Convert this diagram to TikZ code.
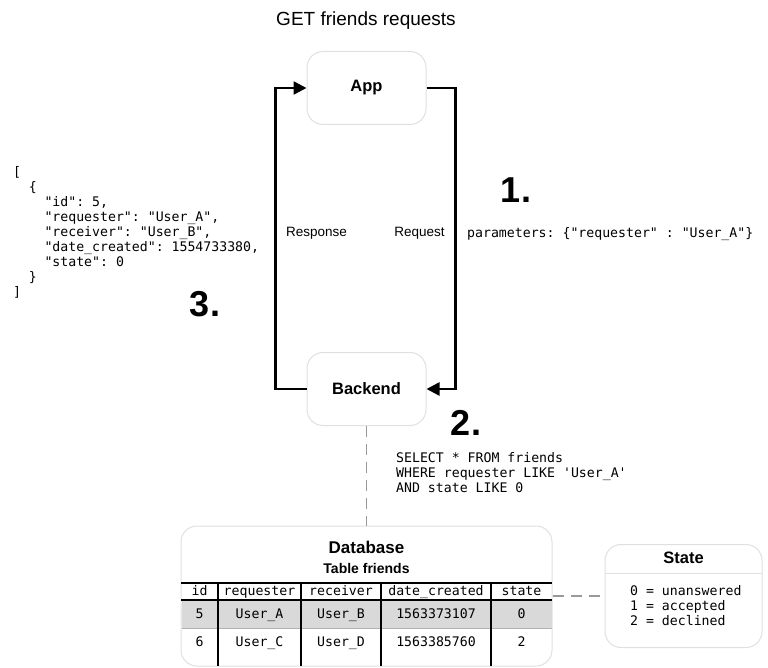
\documentclass[tikz,border=0pt]{standalone}
\usepackage{fontspec}
\setmainfont{Liberation Sans}
\setmonofont{DejaVu Sans Mono}
\usetikzlibrary{arrows.meta}
\begin{document}
\begin{tikzpicture}[x=1pt,y=-1pt,
  box/.style={draw=black!12, line width=1pt, fill=white, rounded corners=16pt, inner sep=0pt},
  boxlbl/.style={font=\fontsize{16.5}{20}\selectfont\bfseries},
  conn/.style={line width=2.5pt, -{Triangle[length=13pt,width=13pt]}},
  dashline/.style={draw=black!40, line width=1.5pt, dash pattern=on 11pt off 7pt},
  mono/.style={font=\ttfamily\fontsize{13.2}{15}\selectfont, inner sep=0pt, anchor=base west},
  cell/.style={font=\ttfamily\fontsize{13.2}{15}\selectfont, inner sep=0pt, anchor=base},
  small/.style={font=\fontsize{13.5}{16}\selectfont, inner sep=0pt},
  big/.style={font=\fontsize{36}{40}\selectfont\bfseries, inner sep=0pt},
  tbl/.style={line width=1.5pt}
]
\useasboundingbox (0,0) rectangle (768,668);
\fill[white] (0,0) rectangle (768,668);

\node[font=\fontsize{19}{22}\selectfont] (title) at (366,21) {GET friends requests};

\node[box, boxlbl, minimum width=119pt, minimum height=73pt] (app) at (366.5,88) {App};
\node[box, boxlbl, minimum width=119pt, minimum height=73pt] (backend) at (366.5,389) {Backend};

\draw[conn] (backend.west) -- ++(-31,0) |- (app.west);
\draw[conn] (app.east) -- ++(29,0) |- (backend.east);

\node[small] (resp) at (316.5,233) {Response};
\node[small] (req) at (419.5,233) {Request};
\node[mono] (params) at (467,237.5) {parameters: \{"requester" : "User\_A"\}};

\node[big] (n1) at (516,190) {1.};
\node[big] (n2) at (466,423) {2.};
\node[big] (n3) at (205,304) {3.};

% JSON
\node[mono] (j1) at (13,177) {[};
\node[mono] (j2) at (28.7,192) {\{};
\node[mono] (j3) at (44.3,207) {"id": 5,};
\node[mono] (j4) at (44.3,222) {"requester": "User\_A",};
\node[mono] (j5) at (44.3,237) {"receiver": "User\_B",};
\node[mono] (j6) at (44.3,252) {"date\_created": 1554733380,};
\node[mono] (j7) at (44.3,267) {"state": 0};
\node[mono] (j8) at (28.7,282) {\}};
\node[mono] (j9) at (13,297) {]};

% SQL
\node[mono] (s1) at (396,462) {SELECT * FROM friends};
\node[mono] (s2) at (396,477) {WHERE requester LIKE 'User\_A'};
\node[mono] (s3) at (396,492) {AND state LIKE 0};

% Database
\node[box, minimum width=371pt, minimum height=140pt] (db) at (366.5,596) {};
\draw[dashline] (backend.south) -- (db.north);
\node[font=\fontsize{17}{20}\selectfont\bfseries, inner sep=0pt] (dbt) at (366.5,547) {Database};
\node[font=\fontsize{14}{17}\selectfont\bfseries, inner sep=0pt] (dbs) at (366.5,568) {Table friends};
\fill[black!15] (181.5,600) rectangle (551.5,628);
\draw[black!30, line width=0.6pt] (181.5,628) -- (551.5,628);
\draw[tbl] (181,583) -- (552,583);
\draw[tbl] (181,600) -- (552,600);
\foreach \x in {218,301,381,491} \draw[tbl] (\x,583) -- (\x,666);

\node[cell] (h1) at (199.5,595.5) {id};
\node[cell] (h2) at (259.5,595.5) {requester};
\node[cell] (h3) at (341,595.5) {receiver};
\node[cell] (h4) at (436,595.5) {date\_created};
\node[cell] (h5) at (521.5,595.5) {state};

\node[cell] (a1) at (199.5,618) {5};
\node[cell] (a2) at (259.5,618) {User\_A};
\node[cell] (a3) at (341,618) {User\_B};
\node[cell] (a4) at (436,618) {1563373107};
\node[cell] (a5) at (521.5,618) {0};

\node[cell] (b1) at (199.5,646) {6};
\node[cell] (b2) at (259.5,646) {User\_C};
\node[cell] (b3) at (341,646) {User\_D};
\node[cell] (b4) at (436,646) {1563385760};
\node[cell] (b5) at (521.5,646) {2};

% State
\node[box, minimum width=157pt, minimum height=103pt] (state) at (683.5,596) {};
\draw[dashline] (db.east) -- (state.west);
\node[font=\fontsize{16.5}{20}\selectfont\bfseries, inner sep=0pt] (stt) at (683.5,558) {State};
\draw[black!12, line width=1pt] (605,573) -- (762,573);
\node[mono] (st1) at (630,595) {0 = unanswered};
\node[mono] (st2) at (630,610) {1 = accepted};
\node[mono] (st3) at (630,625) {2 = declined};
\end{tikzpicture}
\end{document}
